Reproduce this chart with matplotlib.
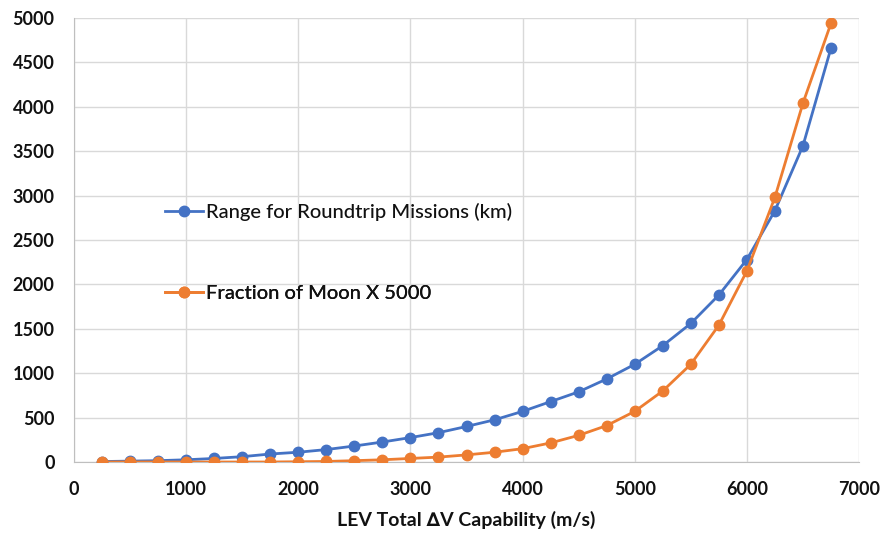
import matplotlib
matplotlib.use("Agg")
import matplotlib.pyplot as plt

dv = [250, 500, 750, 1000, 1250, 1500, 1750, 2000, 2250, 2500, 2750, 3000, 3250, 3500,
      3750, 4000, 4250, 4500, 4750, 5000, 5250, 5500, 5750, 6000, 6250, 6500, 6750]
range_km = [5, 10, 15, 25, 40, 60, 90, 110, 140, 180, 225, 275, 330, 400,
            475, 570, 680, 790, 935, 1100, 1310, 1560, 1880, 2280, 2830, 3560, 4660]
fraction_moon = [0, 0, 0, 0, 0, 0, 0, 3, 6, 15, 25, 40, 55, 80,
                 110, 150, 215, 300, 410, 570, 800, 1100, 1540, 2150, 2980, 4040, 4940]
x_ticks = [0, 1000, 2000, 3000, 4000, 5000, 6000, 7000]
y_ticks = [0, 500, 1000, 1500, 2000, 2500, 3000, 3500, 4000, 4500, 5000]
labels = ['Range for Roundtrip Missions (km)', 'Fraction of Moon X 5000']

plt.rcParams['font.family'] = ['Lato', 'DejaVu Sans']

fig = plt.figure(figsize=(8.85, 5.35), dpi=100)
ax = fig.add_axes([74/885, 1-462/535, (859-74)/885, (462-18)/535])

blue = '#4472C4'
orange = '#ED7D31'
l1, = ax.plot(dv, range_km, color=blue, lw=2.0, marker='o', ms=7.5, zorder=3)
l2, = ax.plot(dv, fraction_moon, color=orange, lw=2.0, marker='o', ms=7.5, zorder=3)

ax.set_xlim(0, 7000)
ax.set_ylim(0, 5000)
ax.set_xticks(x_ticks)
ax.set_yticks(y_ticks)
ax.grid(True, color='#d9d9d9', lw=1)
ax.set_axisbelow(True)
for s in ['top', 'right']:
    ax.spines[s].set_visible(False)
for s in ['left', 'bottom']:
    ax.spines[s].set_color('#bfbfbf')
ax.tick_params(length=0, labelsize=13, colors='#111111')
ax.tick_params(axis='x', pad=14)
ax.tick_params(axis='y', pad=14)
for lab in ax.get_xticklabels() + ax.get_yticklabels():
    lab.set_fontweight('bold')

ax.set_xlabel('LEV Total \u2206V Capability (m/s)', fontsize=14, fontweight='bold',
              color='#111111', labelpad=9)

ys = [212, 293]
for line, lab, yp in zip([l1, l2], labels, ys):
    lg = ax.legend([line], [lab], loc='center left',
                   bbox_to_anchor=(165/885, 1-yp/535), bbox_transform=fig.transFigure,
                   frameon=False, fontsize=14.5, handlelength=1.9, handletextpad=0.15,
                   borderpad=0, borderaxespad=0, labelcolor='#111111',
                   prop={'weight': 'medium', 'size': 14.5})
    ax.add_artist(lg)

fig.savefig('out.png', dpi=100)
